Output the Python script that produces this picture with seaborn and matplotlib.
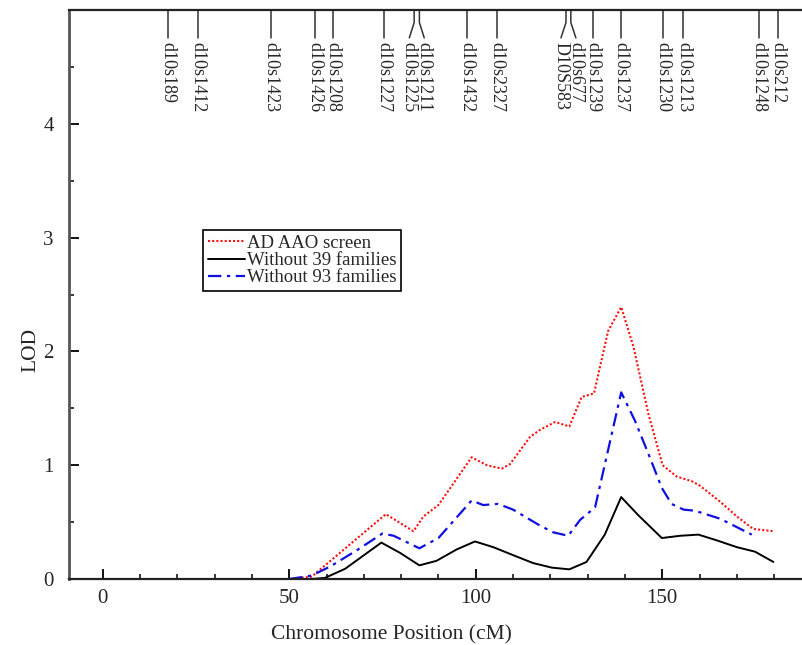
import matplotlib
matplotlib.use("Agg")
import matplotlib.pyplot as plt
import seaborn as sns
import numpy as np
import pandas as pd

# ---- data ----
ad_x = [50, 56, 75.9, 83.3, 86, 90, 98.9, 103, 107, 109.2, 114.6, 117.2, 121.3, 125.1,
        128.4, 131.7, 135.5, 139, 142.3, 146.3, 150.1, 153.9, 157.9, 160.1, 165.5, 170, 174.4, 179.8]
ad_y = [0, 0.02, 0.57, 0.42, 0.55, 0.65, 1.07, 1.00, 0.97, 1.01, 1.25, 1.31, 1.38, 1.34,
        1.60, 1.63, 2.18, 2.39, 2.04, 1.45, 1.00, 0.90, 0.86, 0.82, 0.68, 0.55, 0.44, 0.42]

w93_x = [50, 56, 61, 68, 75, 78, 84.9, 90, 98.9, 102, 106, 110, 117.2, 120.8, 124.8,
         128, 132, 139, 142.7, 146.3, 149.9, 152.5, 155.7, 158.8, 165.5, 174]
w93_y = [0, 0.03, 0.11, 0.25, 0.40, 0.38, 0.27, 0.36, 0.69, 0.65, 0.66, 0.61, 0.47, 0.41, 0.38,
         0.52, 0.63, 1.64, 1.39, 1.10, 0.80, 0.66, 0.61, 0.60, 0.53, 0.39]

w39_x = [50, 56, 59.6, 65, 74.7, 79.7, 84.9, 89.5, 94.9, 99.8, 104.7, 110, 115.4, 120.4,
         125.1, 129.7, 134.6, 139, 143.6, 149.9, 154.8, 159.7, 164.6, 170, 174.9, 179.8]
w39_y = [0, 0, 0.01, 0.09, 0.32, 0.23, 0.12, 0.16, 0.26, 0.33, 0.28, 0.21, 0.14, 0.10,
         0.085, 0.15, 0.39, 0.72, 0.56, 0.36, 0.38, 0.39, 0.34, 0.28, 0.24, 0.15]

marker_names = ["d10s189", "d10s1412", "d10s1423", "d10s1426", "d10s1208", "d10s1227",
                "d10s1225", "d10s1211", "d10s1432", "d10s2327", "D10S583", "d10s677",
                "d10s1239", "d10s1237", "d10s1230", "d10s1213", "d10s1248", "d10s212"]
marker_pos = [17.4, 25.6, 45.1, 56.9, 61.8, 75.4, 83.5, 84.9, 97.6, 105.6, 124.2, 125.5,
              131.5, 138.9, 150.3, 155.7, 176.0, 181.1]

series_labels = ["AD AAO screen", "Without 39 families", "Without 93 families"]

# ---- figure ----
sns.set_theme(style="white")
plt.rcParams["font.family"] = ["Liberation Serif", "DejaVu Serif"]

fig = plt.figure(figsize=(8.03, 6.45), dpi=100)
ax = fig.add_axes([0.0861, 0.1023, 0.9151, 0.8822])

sns.lineplot(x=ad_x, y=ad_y, ax=ax, color="#ff1010", lw=1.5, linestyle=(0, (1, 1)),
             sort=False, estimator=None, label=series_labels[0])
sns.lineplot(x=w39_x, y=w39_y, ax=ax, color="black", lw=1.4, linestyle="-",
             sort=False, estimator=None, label=series_labels[1])
sns.lineplot(x=w93_x, y=w93_y, ax=ax, color="#1010e0", lw=1.6, linestyle=(0, (6, 2.5, 1.5, 2.5)),
             sort=False, estimator=None, label=series_labels[2])

ax.set_xlim(-9, 188)
ax.set_ylim(0, 5)
ax.set_xticks([0, 50, 100, 150])
ax.set_xticks(np.arange(0, 190, 10), minor=True)
ax.set_yticks([0, 1, 2, 3, 4])
ax.set_yticks(np.arange(0, 5, 0.5), minor=True)
ax.tick_params(axis="both", which="major", direction="in", length=7, width=1.3,
               labelsize=15, color="black")
ax.tick_params(axis="both", which="minor", direction="in", length=3.5, width=1.1, color="black")
ax.tick_params(axis="both", which="both", bottom=True, left=True, top=False, right=False)
ax.tick_params(axis="x", which="major", pad=7)
ax.tick_params(axis="y", which="major", pad=11)

for s in ["left", "bottom", "top"]:
    ax.spines[s].set_visible(True)
    ax.spines[s].set_linewidth(1.6)
    ax.spines[s].set_color("#222222")
ax.spines["left"].set_color("#555555")
ax.spines["left"].set_linewidth(2.0)
ax.spines["right"].set_visible(False)

ax.set_xlabel("Chromosome Position (cM)", fontsize=15.5)
ax.set_ylabel("LOD", fontsize=15.5)
ax.xaxis.set_label_coords(0.439, -0.082)
ax.yaxis.set_label_coords(-0.039, 0.402)

# marker labels at top
trans = ax.get_xaxis_transform()
label_pos = list(marker_pos)
for i in range(len(marker_pos) - 1):
    if marker_pos[i + 1] - marker_pos[i] < 3:
        mid = (marker_pos[i] + marker_pos[i + 1]) / 2
        label_pos[i] = mid - 2.0
        label_pos[i + 1] = mid + 2.0

y_top, y_bend, y_end, y_text = 1.0, 0.978, 0.951, 0.944
for name, p, lp in zip(marker_names, marker_pos, label_pos):
    if abs(lp - p) > 1e-9:
        ax.plot([p, p, lp], [y_top, y_bend, y_end], transform=trans, color="#333333",
                lw=1.1, clip_on=False)
    else:
        ax.plot([p, p], [y_top, y_end], transform=trans, color="#333333", lw=1.1, clip_on=False)
    ax.text(lp, y_text, name, transform=trans, rotation=-90, ha="center", va="top",
            fontsize=13)

leg = ax.legend(loc="upper left", bbox_to_anchor=(0.182, 0.613), fontsize=13.5,
                frameon=True, fancybox=False, edgecolor="black", framealpha=1,
                borderpad=0.25, handlelength=2.0, handletextpad=0.1, labelspacing=0.0,
                borderaxespad=0)
leg.get_frame().set_linewidth(1.2)

fig.savefig("out.png", dpi=100)
